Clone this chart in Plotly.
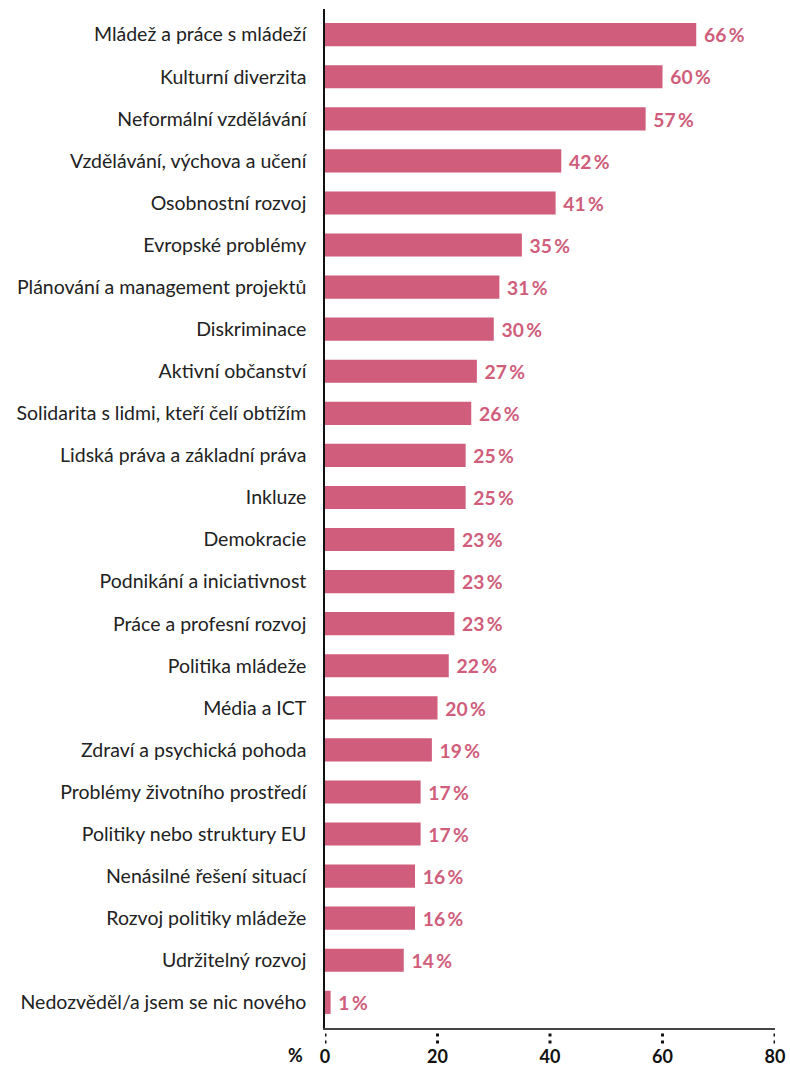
import plotly.graph_objects as go

categories = [
    "Mládež a práce s mládeží",
    "Kulturní diverzita",
    "Neformální vzdělávání",
    "Vzdělávání, výchova a učení",
    "Osobnostní rozvoj",
    "Evropské problémy",
    "Plánování a management projektů",
    "Diskriminace",
    "Aktivní občanství",
    "Solidarita s lidmi, kteří čelí obtížím",
    "Lidská práva a základní práva",
    "Inkluze",
    "Demokracie",
    "Podnikání a iniciativnost",
    "Práce a profesní rozvoj",
    "Politika mládeže",
    "Média a ICT",
    "Zdraví a psychická pohoda",
    "Problémy životního prostředí",
    "Politiky nebo struktury EU",
    "Nenásilné řešení situací",
    "Rozvoj politiky mládeže",
    "Udržitelný rozvoj",
    "Nedozvěděl/a jsem se nic nového",
]
values = [66, 60, 57, 42, 41, 35, 31, 30, 27, 26, 25, 25, 23, 23, 23, 22, 20, 19, 17, 17, 16, 16, 14, 1]
tick_values = [0, 20, 40, 60, 80]
tick_labels = ["0", "20", "40", "60", "80"]

BAR = "#CF5D7B"
FONT = "Lato"

fig = go.Figure(
    go.Bar(
        x=values,
        y=categories,
        orientation="h",
        marker=dict(color=BAR, line=dict(width=0)),
        width=0.55,
        text=[f"\u00a0{v}\u2009%" for v in values],
        textposition="outside",
        cliponaxis=False,
        textfont=dict(family=FONT, size=20, color=BAR, weight="bold"),
    )
)

# dotted tick marks below the x axis
shapes = []
for t in tick_values:
    shapes.append(dict(
        type="line", xref="x", yref="paper", x0=t, x1=t, y0=-0.0055, y1=-0.0165,
        line=dict(color="#111", width=3, dash="3px,4px"),
    ))

fig.update_layout(
    width=790, height=1067,
    margin=dict(l=325, r=15, t=9, b=39, autoexpand=False),
    paper_bgcolor="white", plot_bgcolor="white",
    showlegend=False,
    bargap=0.45,
    shapes=shapes,
    xaxis=dict(
        range=[0, 80], tickvals=tick_values, ticktext=tick_labels,
        showgrid=False, zeroline=False, automargin=False,
        showline=True, linecolor="#444", linewidth=2,
        ticks="", ticklabelstandoff=11,
        tickfont=dict(family=FONT, size=18, color="#111", weight="bold"),
    ),
    yaxis=dict(
        type="category", categoryorder="array", categoryarray=categories,
        range=[23.61, -0.61], automargin=False,
        showgrid=False, zeroline=False,
        showline=True, linecolor="#111", linewidth=1.5,
        ticks="", ticklabelstandoff=13,
        tickfont=dict(family=FONT, size=19.5, color="#222"),
    ),
    annotations=[dict(
        text="%", xref="paper", yref="paper", x=0, y=0,
        xanchor="right", yanchor="top", xshift=-20, yshift=-14,
        showarrow=False, font=dict(family=FONT, size=18, color="#111", weight="bold"),
    )],
)

fig.write_html("out.html", config={"displayModeBar": False},
               post_script="document.body.style.margin='0';")
